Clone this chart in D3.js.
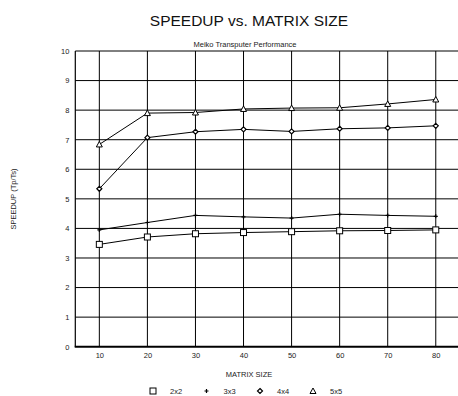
<!DOCTYPE html>
<html><head><meta charset="utf-8">
<script src="https://cdn.jsdelivr.net/npm/d3@7"></script>
<style>body{margin:0;background:#fff;overflow:hidden}svg{display:block;font-family:"Liberation Sans",Arial,sans-serif}</style>
</head><body><svg id="c" width="458" height="396"></svg>
<script>
const matrixSizes = [10, 20, 30, 40, 50, 60, 70, 80];
const s2x2 = [3.46, 3.71, 3.82, 3.86, 3.89, 3.92, 3.93, 3.95];
const s3x3 = [3.95, 4.20, 4.44, 4.39, 4.35, 4.48, 4.44, 4.41];
const s4x4 = [5.34, 7.07, 7.27, 7.35, 7.28, 7.37, 7.40, 7.47];
const s5x5 = [6.84, 7.90, 7.92, 8.04, 8.07, 8.08, 8.21, 8.36];
const seriesNames = ["2x2", "3x3", "4x4", "5x5"];
const yTicks = [0,1,2,3,4,5,6,7,8,9,10];

const series = [s2x2, s3x3, s4x4, s5x5].map((v,i)=>({name:seriesNames[i], values:v}));
const svg = d3.select("#c");
const x = d3.scaleLinear().domain([5, 85]).range([75.3, 459.8]);
const y = d3.scaleLinear().domain([0, 10]).range([346.7, 51]);

// grid
svg.append("g").selectAll("line").data(yTicks.filter(d=>d>0)).join("line")
  .attr("x1", x(5)).attr("x2", x(85)).attr("y1", d=>y(d)).attr("y2", d=>y(d))
  .attr("stroke", "#000").attr("stroke-width", 1);
svg.append("g").selectAll("line").data(matrixSizes).join("line")
  .attr("x1", d=>x(d)).attr("x2", d=>x(d)).attr("y1", y(0)).attr("y2", y(10))
  .attr("stroke", "#000").attr("stroke-width", 1);
// left border and bottom axis
svg.append("line").attr("x1", x(5)).attr("x2", x(5)).attr("y1", y(0)).attr("y2", y(10)).attr("stroke","#000").attr("stroke-width",1.2);
svg.append("line").attr("x1", x(5)-0.6).attr("x2", x(85)).attr("y1", y(0)).attr("y2", y(0)).attr("stroke","#000").attr("stroke-width",2);

// axes labels
const yAxis = d3.axisLeft(y).tickValues(yTicks).tickSize(0).tickPadding(6).tickFormat(d3.format("d"));
const gy = svg.append("g").attr("transform", `translate(${x(5)},0)`).call(yAxis);
gy.select(".domain").remove();
gy.selectAll("text").attr("font-size", 7.5).attr("fill", "#222").attr("font-family","Liberation Sans, Arial, sans-serif");
const xAxis = d3.axisBottom(x).tickValues(matrixSizes).tickSize(0).tickPadding(6).tickFormat(d3.format("d"));
const gx = svg.append("g").attr("transform", `translate(0,${y(0)})`).call(xAxis);
gx.select(".domain").remove();
gx.selectAll("text").attr("font-size", 7.5).attr("fill", "#222").attr("font-family","Liberation Sans, Arial, sans-serif");

// lines
const line = d3.line().x((d,i)=>x(matrixSizes[i])).y(d=>y(d));
svg.append("g").selectAll("path").data(series).join("path")
  .attr("d", d=>line(d.values)).attr("fill","none").attr("stroke","#000").attr("stroke-width",1);

function marker(g, type, cx, cy) {
  if (type === 0) g.append("rect").attr("x", cx-3).attr("y", cy-3).attr("width",6).attr("height",6).attr("fill","#fff").attr("stroke","#000").attr("stroke-width",1);
  else if (type === 1) g.append("path").attr("d", `M${cx-2},${cy}H${cx+2}M${cx},${cy-2}V${cy+2}`).attr("stroke","#000").attr("stroke-width",1.2);
  else if (type === 2) g.append("path").attr("d", `M${cx},${cy-2.5}L${cx+2.5},${cy}L${cx},${cy+2.5}L${cx-2.5},${cy}Z`).attr("fill","#fff").attr("stroke","#000").attr("stroke-width",1.2);
  else g.append("path").attr("d", `M${cx},${cy-3}L${cx+3},${cy+2.5}L${cx-3},${cy+2.5}Z`).attr("fill","#fff").attr("stroke","#000").attr("stroke-width",1);
}
const mg = svg.append("g");
series.forEach((s, si) => s.values.forEach((v, i) => marker(mg, si, x(matrixSizes[i]), y(v))));

// titles
svg.append("text").attr("x", 249).attr("y", 26).attr("text-anchor","middle").attr("font-size", 15.5).attr("fill","#111").text("SPEEDUP vs. MATRIX SIZE");
svg.append("text").attr("x", 245).attr("y", 47).attr("text-anchor","middle").attr("font-size", 7.5).attr("fill","#222").text("Meiko Transputer Performance");
svg.append("text").attr("transform","translate(16,199) rotate(-90)").attr("text-anchor","middle").attr("font-size", 7.5).attr("fill","#222").text("SPEEDUP (Tp/Ts)");
svg.append("text").attr("x", 249).attr("y", 377).attr("text-anchor","middle").attr("font-size", 7.5).attr("fill","#222").text("MATRIX SIZE");

// legend
const legX = [153, 206.5, 260, 313];
const lg = svg.append("g");
series.forEach((s, si) => {
  marker(lg, si, legX[si], 391);
  lg.append("text").attr("x", legX[si] + 17).attr("y", 393.5).attr("font-size", 7.5).attr("fill","#222").text(s.name);
});
</script></body></html>
